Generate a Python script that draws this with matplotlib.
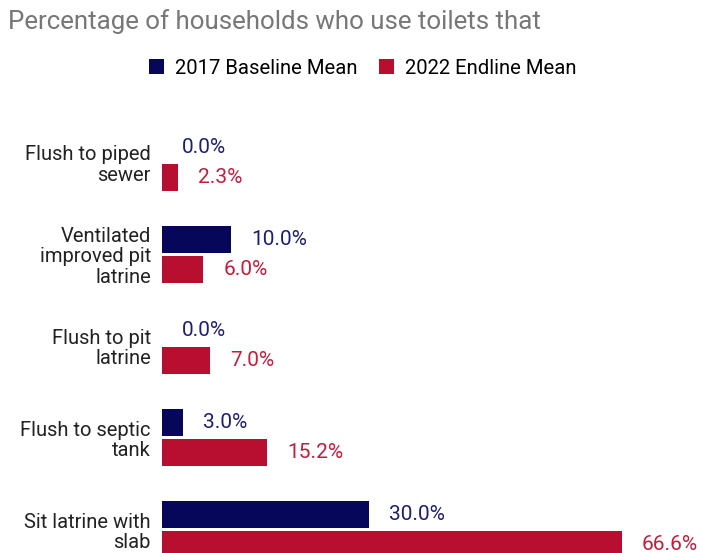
import matplotlib
matplotlib.use("Agg")
import matplotlib.pyplot as plt
from matplotlib.patches import Patch

plt.rcParams['font.family'] = ['Roboto', 'DejaVu Sans']

categories = [
    "Flush to piped\nsewer",
    "Ventilated\nimproved pit\nlatrine",
    "Flush to pit\nlatrine",
    "Flush to septic\ntank",
    "Sit latrine with\nslab",
]
baseline_2017 = [0.0, 10.0, 0.0, 3.0, 30.0]
endline_2022 = [2.3, 6.0, 7.0, 15.2, 66.6]
series_names = ["2017 Baseline Mean", "2022 Endline Mean"]
title = "Percentage of households who use toilets that"

navy = "#06065a"
crimson = "#b80f30"
navy_text = "#1e1e72"
crimson_text = "#c41c3c"

W, H = 702, 553
fig = plt.figure(figsize=(W / 100, H / 100), dpi=100)

# axes geometry in pixels
left_px, top_px, bottom_px = 162, 100, 553
px_per_pct = 6.9
width_px = 540
ax = fig.add_axes([left_px / W, 0, width_px / W, (bottom_px - top_px) / H])
ax.set_xlim(0, width_px / px_per_pct)

group_gap = 91.85
first_center = 162.2
y_top = (top_px - first_center) / group_gap
y_bot = (bottom_px - first_center) / group_gap
ax.set_ylim(y_bot, y_top)

bar_h = 27 / group_gap
offset = 15 / group_gap
idx = list(range(len(categories)))
yb = [i - offset for i in idx]
ye = [i + offset for i in idx]

ax.barh(yb, baseline_2017, height=bar_h, color=navy, label=series_names[0])
ax.barh(ye, endline_2022, height=bar_h, color=crimson, label=series_names[1])

pad = 20 / px_per_pct
for y, v in zip(yb, baseline_2017):
    ax.text(v + pad, y, f"{v:.1f}%", color=navy_text, fontsize=15,
            va="center", ha="left")
for y, v in zip(ye, endline_2022):
    ax.text(v + pad, y, f"{v:.1f}%", color=crimson_text, fontsize=15,
            va="center", ha="left")

ax.set_yticks(idx)
ax.set_yticklabels(categories, fontsize=14.5, color="#222222",
                   ha="right", linespacing=1.1)
ax.tick_params(axis="y", length=0, pad=8)
ax.set_xticks([])
for s in ax.spines.values():
    s.set_visible(False)

fig.text(8 / W, 1 - 28.5 / H, title, fontsize=18.6, color="#777777",
         ha="left", va="baseline")

handles = [Patch(facecolor=navy), Patch(facecolor=crimson)]
fig.legend(handles, series_names, loc="center", bbox_to_anchor=(363 / W, 1 - 68 / H),
           ncol=2, frameon=False, fontsize=14.6, handlelength=0.74, handleheight=0.74,
           handletextpad=0.54, columnspacing=1.08)

fig.savefig("out.png", dpi=100)
